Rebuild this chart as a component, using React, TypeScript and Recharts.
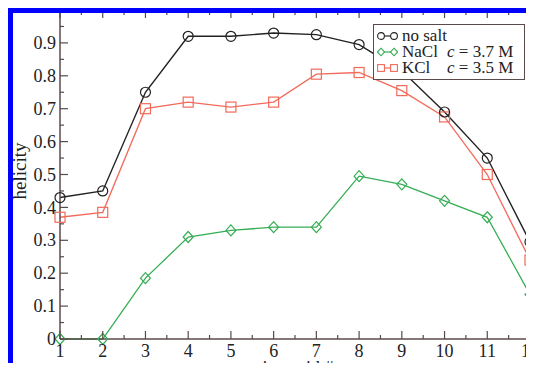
import React from 'react';
import { LineChart, Line, XAxis, YAxis, Legend } from 'recharts';

const aminoAcids = [1, 2, 3, 4, 5, 6, 7, 8, 9, 10, 11, 12];
const noSalt = [0.43, 0.45, 0.75, 0.92, 0.92, 0.93, 0.925, 0.895, 0.815, 0.69, 0.55, 0.295];
const nacl = [0.0, 0.0, 0.185, 0.31, 0.33, 0.34, 0.34, 0.495, 0.47, 0.42, 0.37, 0.135];
const kcl = [0.37, 0.385, 0.70, 0.72, 0.705, 0.72, 0.805, 0.81, 0.755, 0.675, 0.50, 0.24];

const xTicks = [1, 1.5, 2, 2.5, 3, 3.5, 4, 4.5, 5, 5.5, 6, 6.5, 7, 7.5, 8, 8.5, 9, 9.5, 10, 10.5, 11, 11.5, 12];
const yTicks = [0, 0.05, 0.1, 0.15, 0.2, 0.25, 0.3, 0.35, 0.4, 0.45, 0.5, 0.55, 0.6, 0.65, 0.7, 0.75, 0.8, 0.85, 0.9, 0.95];

const data = aminoAcids.map((a, i) => ({ a, noSalt: noSalt[i], nacl: nacl[i], kcl: kcl[i] }));

const AXIS = '#5a4a4a';
const BLACK = '#222222';
const GREEN = '#35ad55';
const RED = '#f26a5a';
const FONT = '"Liberation Serif", "Times New Roman", serif';

const isMajorY = (v: number) => Math.abs(v * 10 - Math.round(v * 10)) < 1e-6;
const isMajorX = (v: number) => Math.abs(v - Math.round(v)) < 1e-6;
const fmtY = (v: number) => (v === 0 ? '0' : v.toFixed(1));

const LeftTick = (p: any) => {
  const { x, y, payload } = p;
  const major = isMajorY(payload.value);
  return (
    <g>
      <line x1={x} y1={y} x2={x + (major ? 8 : 4)} y2={y} stroke={AXIS} strokeWidth={1.2} />
      {major && (
        <text x={x - 4} y={y} dy="0.34em" textAnchor="end" fontFamily={FONT} fontSize={18} fill="#222">
          {fmtY(payload.value)}
        </text>
      )}
    </g>
  );
};

const RightTick = (p: any) => {
  const { x, y, payload } = p;
  const major = isMajorY(payload.value);
  return <line x1={x} y1={y} x2={x - (major ? 8 : 4)} y2={y} stroke={AXIS} strokeWidth={1.2} />;
};

const BottomTick = (p: any) => {
  const { x, y, payload } = p;
  const major = isMajorX(payload.value);
  return (
    <g>
      <line x1={x} y1={y} x2={x} y2={y - (major ? 8 : 4)} stroke={AXIS} strokeWidth={1.2} />
      {major && (
        <text x={x} y={y + 18} textAnchor="middle" fontFamily={FONT} fontSize={18} fill="#222">
          {payload.value}
        </text>
      )}
    </g>
  );
};

const TopTick = (p: any) => {
  const { x, y, payload } = p;
  const major = isMajorX(payload.value);
  return <line x1={x} y1={y} x2={x} y2={y + (major ? 8 : 5)} stroke={AXIS} strokeWidth={1.2} />;
};

const CircleDot = (p: any) => {
  const { cx, cy, key } = p;
  if (cx == null || cy == null) return <g key={key} />;
  return <circle key={key} cx={cx} cy={cy} r={5} fill="none" stroke={BLACK} strokeWidth={1.2} />;
};
const SquareDot = (p: any) => {
  const { cx, cy, key } = p;
  if (cx == null || cy == null) return <g key={key} />;
  return <rect key={key} x={cx - 5} y={cy - 5} width={10} height={10} fill="none" stroke={RED} strokeWidth={1.2} />;
};
const DiamondDot = (p: any) => {
  const { cx, cy, key } = p;
  if (cx == null || cy == null) return <g key={key} />;
  return (
    <path key={key} d={`M${cx},${cy - 5.5} L${cx + 5},${cy} L${cx},${cy + 5.5} L${cx - 5},${cy} Z`} fill="none" stroke={GREEN} strokeWidth={1.2} />
  );
};

const Sym = ({ kind, color }: { kind: string; color: string }) => (
  <svg width={21} height={12} style={{ display: 'block', marginRight: 4, flex: 'none' }}>
    <line x1={4} y1={6} x2={17} y2={6} stroke={color} strokeWidth={1.2} />
    {[4, 17].map((cx) =>
      kind === 'circle' ? (
        <circle key={cx} cx={cx} cy={6} r={3.4} fill="white" stroke={color} strokeWidth={1.1} />
      ) : kind === 'square' ? (
        <rect key={cx} x={cx - 3.4} y={2.6} width={6.8} height={6.8} fill="white" stroke={color} strokeWidth={1.1} />
      ) : (
        <path key={cx} d={`M${cx},2.2 L${cx + 3.6},6 L${cx},9.8 L${cx - 3.6},6 Z`} fill="white" stroke={color} strokeWidth={1.1} />
      )
    )}
  </svg>
);

const LegendBox = () => {
  const row: React.CSSProperties = { display: 'flex', alignItems: 'center', height: 16, whiteSpace: 'nowrap' };
  const name: React.CSSProperties = { display: 'inline-block', width: 45, flex: 'none' };
  return (
    <div
      style={{
        border: `1.3px solid ${AXIS}`,
        background: 'white',
        fontFamily: FONT,
        fontSize: 17,
        color: '#222',
        padding: '3px 3px 3px 3px',
        width: 152,
        lineHeight: '16px',
        boxSizing: 'border-box',
      }}
    >
      <div style={row}>
        <Sym kind="circle" color={BLACK} />
        <span>no salt</span>
      </div>
      <div style={row}>
        <Sym kind="diamond" color={GREEN} />
        <span style={name}>NaCl</span>
        <span>
          <i>c</i> = 3.7 M
        </span>
      </div>
      <div style={row}>
        <Sym kind="square" color={RED} />
        <span style={name}>KCl</span>
        <span>
          <i>c</i> = 3.5 M
        </span>
      </div>
    </div>
  );
};

export default function App() {
  return (
    <div style={{ position: 'relative', width: 534, height: 371, margin: -8, background: 'white', overflow: 'hidden' }}>
      <LineChart width={534} height={371} data={data} margin={{ top: 0, right: 0, bottom: 0, left: 0 }}>
        <XAxis
          xAxisId="b"
          dataKey="a"
          type="number"
          domain={[1, 12]}
          ticks={xTicks}
          interval={0}
          height={32}
          tickSize={0}
          tickMargin={0}
          tick={(p: any) => <BottomTick {...p} />}
          axisLine={{ stroke: AXIS, strokeWidth: 1.5 }}
          label={{
            content: (lp: any) => (
              <text
                x={lp.viewBox.x + lp.viewBox.width / 2 - 8}
                y={lp.viewBox.y + 35}
                textAnchor="middle"
                fontFamily={FONT}
                fontSize={18}
                fill="#222"
              >
                amino acid #
              </text>
            ),
          }}
        />
        <XAxis
          xAxisId="t"
          orientation="top"
          dataKey="a"
          type="number"
          domain={[1, 12]}
          ticks={xTicks}
          interval={0}
          height={10}
          tickSize={0}
          tickMargin={0}
          tick={(p: any) => <TopTick {...p} />}
          axisLine={{ stroke: AXIS, strokeWidth: 1.5 }}
        />
        <YAxis
          yAxisId="l"
          type="number"
          domain={[0, 1]}
          ticks={yTicks}
          interval={0}
          width={60}
          tickSize={0}
          tickMargin={0}
          tick={(p: any) => <LeftTick {...p} />}
          axisLine={{ stroke: AXIS, strokeWidth: 1.5 }}
          label={{
            content: () => (
              <text
                x={19}
                y={171}
                transform={`rotate(-90 19 171)`}
                textAnchor="middle"
                dominantBaseline="central"
                fontFamily={FONT}
                fontSize={19}
                fill="#222"
              >
                helicity
              </text>
            ),
          }}
        />
        <YAxis
          yAxisId="r"
          orientation="right"
          type="number"
          domain={[0, 1]}
          ticks={yTicks}
          interval={0}
          width={4}
          tickSize={0}
          tickMargin={0}
          tick={(p: any) => <RightTick {...p} />}
          axisLine={{ stroke: AXIS, strokeWidth: 1.5 }}
        />
        <Line
          xAxisId="b"
          yAxisId="l"
          dataKey="nacl"
          stroke={GREEN}
          strokeWidth={1.3}
          dot={(p: any) => <DiamondDot {...p} />}
          isAnimationActive={false}
          type="linear"
        />
        <Line
          xAxisId="b"
          yAxisId="l"
          dataKey="kcl"
          stroke={RED}
          strokeWidth={1.3}
          dot={(p: any) => <SquareDot {...p} />}
          isAnimationActive={false}
          type="linear"
        />
        <Line
          xAxisId="b"
          yAxisId="l"
          dataKey="noSalt"
          stroke={BLACK}
          strokeWidth={1.4}
          dot={(p: any) => <CircleDot {...p} />}
          isAnimationActive={false}
          type="linear"
        />
        <Legend
          layout="vertical"
          align="center"
          verticalAlign="middle"
          content={() => <LegendBox />}
          wrapperStyle={{ position: 'absolute', left: 373, top: 24, width: 152, height: 57 }}
        />
      </LineChart>
      <div
        style={{
          position: 'absolute',
          left: 7,
          top: 7,
          width: 527,
          height: 364,
          boxSizing: 'border-box',
          borderLeft: '6px solid #0000ff',
          borderTop: '6px solid #0000ff',
          borderRight: '3px solid #3a3aff',
          borderBottom: '2px solid #5a5aff',
          pointerEvents: 'none',
        }}
      />
    </div>
  );
}
